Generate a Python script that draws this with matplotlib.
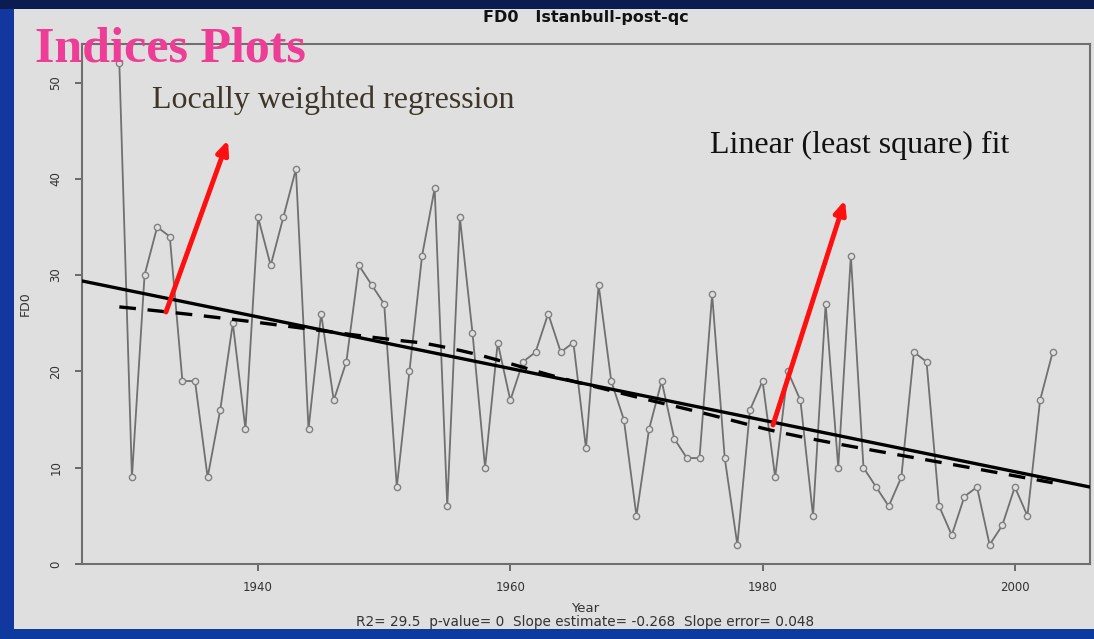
import numpy as np
import matplotlib
matplotlib.use("Agg")
import matplotlib.pyplot as plt
from matplotlib.patches import Rectangle

# ---------------- data ----------------
years = list(range(1929, 2004))
fd0 = [52, 9, 30, 35, 34, 19, 19, 9, 16, 25,
       14, 36, 31, 36, 41, 14, 26, 17, 21, 31,
       29, 27, 8, 20, 32, 39, 6, 36, 24, 10,
       23, 17, 21, 22, 26, 22, 23, 12, 29, 19,
       15, 5, 14, 19, 13, 11, 11, 28, 11, 2,
       16, 19, 9, 20, 17, 5, 27, 10, 32, 10,
       8, 6, 9, 22, 21, 6, 3, 7, 8, 2,
       4, 8, 5, 17, 22]
x_ticks = [1940, 1960, 1980, 2000]
y_ticks = [0, 10, 20, 30, 40, 50]

title_txt = "FD0   Istanbull-post-qc"
stats_txt = "R2= 29.5  p-value= 0  Slope estimate= -0.268  Slope error= 0.048"

x = np.array(years, dtype=float)
y = np.array(fd0, dtype=float)


def lowess(xv, yv, f=2 / 3, iters=3):
    n = len(xv)
    r = int(np.ceil(f * n))
    h = np.array([np.sort(np.abs(xv - xv[i]))[r - 1] for i in range(n)])
    w = np.clip(np.abs((xv[:, None] - xv[None, :]) / h[:, None]), 0.0, 1.0)
    w = (1 - w ** 3) ** 3
    yest = np.zeros(n)
    delta = np.ones(n)
    for _ in range(iters):
        for i in range(n):
            wi = delta * w[i, :]
            b = np.array([np.sum(wi * yv), np.sum(wi * yv * xv)])
            A = np.array([[np.sum(wi), np.sum(wi * xv)],
                          [np.sum(wi * xv), np.sum(wi * xv * xv)]])
            beta = np.linalg.solve(A, b)
            yest[i] = beta[0] + beta[1] * xv[i]
        res = yv - yest
        s = np.median(np.abs(res))
        delta = np.clip(res / (6.0 * s), -1, 1)
        delta = (1 - delta ** 2) ** 2
    return yest


lo = lowess(x, y)
slope, intercept = np.polyfit(x, y, 1)

# ---------------- figure ----------------
W, H = 1094, 639
BG = "#dfdfdf"
fig = plt.figure(figsize=(W / 100, H / 100), dpi=100, facecolor=BG)

# slide frame bands
fig.patches.append(Rectangle((0, 0), 14 / W, 1, transform=fig.transFigure,
                             facecolor="#1238a0", edgecolor="none", zorder=0))
fig.patches.append(Rectangle((0, 1 - 9 / H), 1, 9 / H, transform=fig.transFigure,
                             facecolor="#0b1d50", edgecolor="none", zorder=0))
fig.patches.append(Rectangle((0, 0), 1, 10 / H, transform=fig.transFigure,
                             facecolor="#0d3a9e", edgecolor="none", zorder=0))

ax = fig.add_axes([82 / W, 1 - 564 / H, (1090 - 82) / W, (564 - 44) / H])
ax.set_facecolor(BG)
xr = x.max() - x.min()
ax.set_xlim(x.min() - 0.04 * xr, x.max() + 0.04 * xr)
ax.set_ylim(0, 54)

# data series
ax.plot(x, y, color="#707070", lw=1.3, zorder=2)
ax.plot(x, y, ls="none", marker="o", ms=4.5, mfc=BG, mec="#808080", mew=1.0, zorder=3)

# linear fit across the full axis
xl = np.array(ax.get_xlim())
ax.plot(xl, intercept + slope * xl, color="black", lw=2.4, zorder=4)
# lowess
ax.plot(x, lo, color="black", lw=2.4, ls=(0, (5, 3.5)), zorder=4)

for sp in ax.spines.values():
    sp.set_color("#6f6f6f")
    sp.set_linewidth(1.5)

ax.set_xticks(x_ticks)
ax.set_yticks(y_ticks)
ax.tick_params(axis="both", direction="out", length=5, width=1.2, color="#555555",
               labelcolor="#333333", labelsize=8.5)
for lab in ax.get_yticklabels():
    lab.set_rotation(90)
    lab.set_va("center")
ax.tick_params(axis="x", pad=7)
ax.tick_params(axis="y", pad=9)
ax.set_ylabel("FD0", fontsize=9, color="#333333", labelpad=13)

# red arrows (axes-fraction positions)
arrow_style = dict(arrowstyle="-|>,head_length=0.8,head_width=0.35",
                   color="#ff1010", lw=3.5, shrinkA=0, shrinkB=0)
ax.annotate("", xy=(0.1448, 0.8154), xytext=(0.0833, 0.4846),
            xycoords="axes fraction", textcoords="axes fraction",
            arrowprops=arrow_style, zorder=6)
ax.annotate("", xy=(0.7569, 0.70), xytext=(0.6855, 0.2673),
            xycoords="axes fraction", textcoords="axes fraction",
            arrowprops=arrow_style, zorder=6)


def ftext(px, py, s, **kw):
    fig.text(px / W, 1 - py / H, s, **kw)


ftext(586, 22, title_txt, ha="center", va="baseline", fontsize=11.5,
      fontweight="bold", color="#111111")
ftext(585, 612, "Year", ha="center", va="baseline", fontsize=9.5, color="#333333")
ftext(585, 626, stats_txt, ha="center", va="baseline", fontsize=9.8, color="#333333")

ftext(35, 62, "Indices Plots", ha="left", va="baseline", fontsize=36,
      fontweight="bold", family="Liberation Serif", color="#ee3d96", zorder=10)
ftext(152, 108, "Locally weighted regression", ha="left", va="baseline",
      fontsize=23, family="Liberation Serif", color="#3d3527", zorder=10)
ftext(710, 153, "Linear (least square) fit", ha="left", va="baseline",
      fontsize=23, family="Liberation Serif", color="#111111", zorder=10)

fig.savefig("out.png", dpi=100, facecolor=BG)
